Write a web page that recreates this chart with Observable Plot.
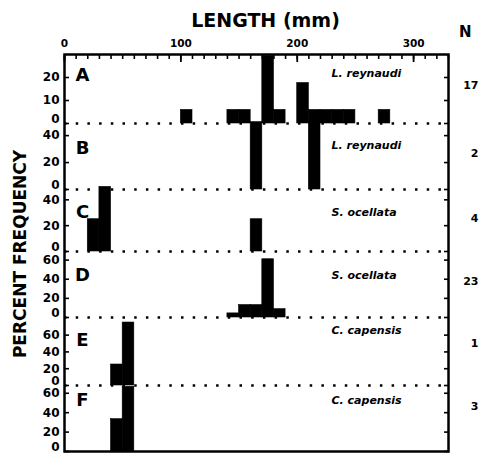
<!DOCTYPE html>
<html>
<head>
<meta charset="utf-8">
<script src="https://cdn.jsdelivr.net/npm/d3@7"></script>
<script src="https://cdn.jsdelivr.net/npm/@observablehq/plot@0.6"></script>
<style>
  body { margin: 0; background: #fff; }
  #chart { position: relative; width: 480px; height: 453px; overflow: hidden; background: #fff; }
  #chart svg { position: absolute; left: 0; top: 0; }
</style>
</head>
<body>
<div id="chart"></div>
<script>
// Panels, species and sample sizes
const panelIds = ["A", "B", "C", "D", "E", "F"];
const speciesNames = ["L. reynaudi", "L. reynaudi", "S. ocellata", "S. ocellata", "C. capensis", "C. capensis"];
const sampleSizes = ["17", "2", "4", "23", "1", "3"];

// Axis ticks
const lengthDomain = [0, 330];
const lengthLabels = [0, 100, 200, 300];
const lengthMinorTicks = d3.range(0, 331, 10);
const yTickValues = [[0, 10, 20], [0, 20, 40], [0, 20, 40], [0, 20, 40, 60], [0, 20, 40, 60], [0, 20, 40, 60]];

// 10-mm length classes (lower bound, mm) and percent frequency in each class
const binsA = [100, 140, 150, 170, 180, 200, 210, 220, 230, 240, 270];
const pctA  = [5.9, 5.9, 5.9, 29.4, 5.9, 17.6, 5.9, 5.9, 5.9, 5.9, 5.9];
const binsB = [160, 210];
const pctB  = [50, 50];
const binsC = [20, 30, 160];
const pctC  = [25, 50, 25];
const binsD = [140, 150, 160, 170, 180];
const pctD  = [4.3, 13.0, 13.0, 60.9, 8.7];
const binsE = [40, 50];
const pctE  = [25, 75];
const binsF = [40, 50];
const pctF  = [33.3, 66.7];
const binWidth = 10;

const panelBins = [binsA, binsB, binsC, binsD, binsE, binsF];
const panelPct = [pctA, pctB, pctC, pctD, pctE, pctF];

// Page geometry
const W = 480, H = 453;
const frameLeft = 64, frameRight = 448, frameTop = 54, frameBottom = 451;
const panelLayout = [
  {top: 54,  zero: 123, ymax: 30, letterDy: 21,   speciesDy: 19, nDy: 31},
  {top: 123, zero: 189, ymax: 49, letterDy: 25,   speciesDy: 22, nDy: 30},
  {top: 189, zero: 251, ymax: 48, letterDy: 22.5, speciesDy: 23, nDy: 29},
  {top: 251, zero: 317, ymax: 69, letterDy: 24,   speciesDy: 24, nDy: 30},
  {top: 317, zero: 385, ymax: 81, letterDy: 23,   speciesDy: 13, nDy: 26},
  {top: 385, zero: 451, ymax: 68, letterDy: 15,   speciesDy: 15, nDy: 21}
];

const font = "'DejaVu Sans', 'Liberation Sans', sans-serif";
const baseStyle = {background: "transparent", overflow: "visible", fontFamily: font, color: "#000"};
const chart = document.getElementById("chart");

panelIds.forEach((id, i) => {
  const L = panelLayout[i];
  const bars = panelBins[i].map((start, j) => ({start, end: start + binWidth, pct: panelPct[i][j]}));
  const ticks = yTickValues[i];
  const labelTicks = ticks.map(t => ({value: t, lift: t === 0 ? -4 : 0}));
  const marks = [];
  if (i < panelIds.length - 1) {
    // dotted baseline separating this panel from the one below
    marks.push(Plot.ruleY([0], {stroke: "#000", strokeWidth: 2.5, strokeDasharray: "2.5 9.2"}));
  }
  marks.push(
    Plot.rect(bars, {x1: "start", x2: "end", y1: 0, y2: "pct", fill: "#000", stroke: "#000", strokeWidth: 0.6}),
    // tick labels left of the axis; the zero label sits a little above its baseline
    ...labelTicks.map(t => Plot.text([t], {y: "value", text: d => String(d.value), frameAnchor: "left",
      textAnchor: "end", lineAnchor: "middle", dx: -5, dy: t.lift, fontSize: 12, fontWeight: "bold", fill: "#000"})),
    Plot.axisY(ticks, {anchor: "left", tickSize: 5, dx: 5, tickFormat: () => "", strokeWidth: 1.6, label: null}),
    Plot.axisY(ticks, {anchor: "right", tickSize: 5, dx: -5, tickFormat: () => "", strokeWidth: 1.6, label: null}),
    Plot.text([id], {text: d => d, frameAnchor: "top-left", lineAnchor: "middle", dx: 18, dy: L.letterDy,
      fontSize: 18, fontWeight: "bold", textAnchor: "middle"}),
    Plot.text([speciesNames[i]], {text: d => d, frameAnchor: "top-right", lineAnchor: "middle", dx: -117, dy: L.speciesDy,
      fontSize: 11, fontWeight: "bold", fontStyle: "italic", textAnchor: "start", letterSpacing: 1}),
    Plot.text([sampleSizes[i]], {text: d => d, frameAnchor: "top-right", lineAnchor: "middle", dx: 30, dy: L.nDy,
      fontSize: 11, fontWeight: "bold", textAnchor: "end"})
  );
  const svg = Plot.plot({
    width: W, height: H,
    marginLeft: frameLeft, marginRight: W - frameRight,
    marginTop: L.top, marginBottom: H - L.zero,
    style: baseStyle,
    x: {domain: lengthDomain, axis: null},
    y: {domain: [0, L.ymax], label: null},
    marks
  });
  chart.appendChild(svg);
});

// Frame, length axis along the top and the overall titles
const overlay = Plot.plot({
  width: W, height: H,
  marginLeft: frameLeft, marginRight: W - frameRight,
  marginTop: frameTop, marginBottom: H - frameBottom,
  style: baseStyle,
  x: {domain: lengthDomain, label: null},
  y: {domain: [0, 1], axis: null},
  marks: [
    Plot.axisX(lengthMinorTicks, {anchor: "top", tickSize: 4, dy: 4, tickFormat: () => "", strokeWidth: 1.6, label: null}),
    Plot.axisX(lengthLabels, {anchor: "top", tickSize: 7, dy: 7, tickFormat: () => "", strokeWidth: 1.8, label: null}),
    Plot.axisX(lengthLabels, {anchor: "top", tickSize: 0, tickPadding: 8, fontSize: 10.5, fontWeight: "bold", label: null}),
    Plot.frame({stroke: "#000", strokeWidth: 2.5}),
    Plot.text(["LENGTH (mm)"], {text: d => d, frameAnchor: "top", lineAnchor: "middle", dx: 9, dy: -34,
      fontSize: 19, fontWeight: "bold", letterSpacing: -0.3}),
    Plot.text(["N"], {text: d => d, frameAnchor: "top-right", lineAnchor: "middle", dx: 23, dy: -22,
      fontSize: 15, fontWeight: "bold"}),
    Plot.text(["PERCENT FREQUENCY"], {text: d => d, frameAnchor: "left", lineAnchor: "middle", textAnchor: "middle",
      dx: -44, dy: 1, rotate: -90, fontSize: 17, fontWeight: "bold"})
  ]
});
chart.appendChild(overlay);
</script>
</body>
</html>
